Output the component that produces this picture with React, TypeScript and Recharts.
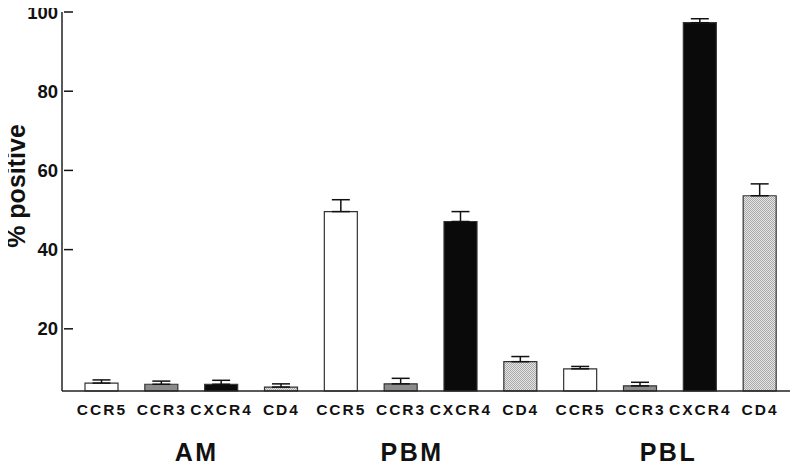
import React from "react";
import { BarChart, Bar, XAxis, YAxis, ErrorBar, Cell } from "recharts";

const groups = ["AM", "PBM", "PBL"];
const markers = ["CCR5", "CCR3", "CXCR4", "CD4"];

// % positive per marker (CCR5, CCR3, CXCR4, CD4)
const amPct = [6.3, 6.0, 6.0, 5.3];
const pbmPct = [49.6, 6.1, 47.1, 11.7];
const pblPct = [9.9, 5.6, 97.3, 53.6];

// upper error (SEM) per marker
const amErr = [0.8, 0.8, 1.0, 0.8];
const pbmErr = [3.0, 1.4, 2.5, 1.3];
const pblErr = [0.6, 0.9, 1.0, 3.0];

const yTicks = [20, 40, 60, 80, 100];

const pctByGroup = [amPct, pbmPct, pblPct];
const errByGroup = [amErr, pbmErr, pblErr];

const rows = groups.flatMap((g, gi) =>
  markers.map((m, mi) => ({
    key: `${g}-${m}`,
    group: g,
    marker: m,
    pct: pctByGroup[gi][mi],
    err: [0, errByGroup[gi][mi]],
  }))
);

const markerFill: Record<string, string> = {
  CCR5: "#ffffff",
  CCR3: "#8c8c8c",
  CXCR4: "#0a0a0a",
  CD4: "url(#hatch)",
};

const FONT = "'Liberation Sans', Arial, Helvetica, sans-serif";
const HALF_BAND = 30;
const groupShift = [5, -19, -2];

const renderYTick = (props: any) => {
  const { y, payload } = props;
  return (
    <g key={`yt-${payload.value}`}>
      <line x1={64} x2={73} y1={y} y2={y} stroke="#111" strokeWidth={1.5} />
      <text x={58} y={y} dy={6.5} textAnchor="end" fontFamily={FONT} fontWeight="bold" fontSize={18.5} fill="#111">
        {payload.value}
      </text>
    </g>
  );
};

const renderXTick = (props: any) => {
  const { x, payload } = props;
  const row = rows.find((r) => r.key === payload.value);
  if (!row) return <g />;
  const idx = rows.indexOf(row);
  const gi = Math.floor(idx / 4);
  return (
    <g key={`xt-${row.key}`}>
      <text x={x} y={415} textAnchor="middle" fontFamily={FONT} fontWeight="bold" fontSize={15.5} letterSpacing={2} fill="#111">
        {row.marker}
      </text>
      {idx % 4 === 1 && (
        <text
          x={x + HALF_BAND + groupShift[gi]}
          y={461}
          textAnchor="middle"
          fontFamily={FONT}
          fontWeight="bold"
          fontSize={25}
          letterSpacing={2.5}
          fill="#111"
        >
          {row.group}
        </text>
      )}
    </g>
  );
};

const renderYLabel = () => (
  <text
    x={16}
    y={186}
    transform="rotate(-90 16 186)"
    textAnchor="middle"
    dominantBaseline="central"
    fontFamily={FONT}
    fontWeight="bold"
    fontSize={25}
    fill="#111"
  >
    % positive
  </text>
);

export default function App() {
  return (
    <div style={{ margin: "-8px 0 0 -8px", width: 800, height: 466, background: "#fff" }}>
      <BarChart width={800} height={466} data={rows} margin={{ top: 12, right: 10, left: 0, bottom: 0 }} barSize={33}>
        <defs>
          <pattern id="hatch" width={2} height={2} patternUnits="userSpaceOnUse">
            <rect width={2} height={2} fill="#e6e6e6" />
            <rect width={1} height={1} fill="#a8a8a8" />
            <rect x={1} y={1} width={1} height={1} fill="#a8a8a8" />
          </pattern>
        </defs>
        <XAxis
          dataKey="key"
          height={75}
          axisLine={{ stroke: "#222", strokeWidth: 1.5 }}
          tickLine={false}
          tickSize={0}
          tickMargin={0}
          tick={renderXTick}
          interval={0}
          padding={{ left: 10, right: 0 }}
        />
        <YAxis
          width={62}
          domain={[4.3, 100]}
          ticks={yTicks}
          axisLine={{ stroke: "#222", strokeWidth: 1.5 }}
          tickLine={false}
          tick={renderYTick}
          label={{ content: renderYLabel }}
        />
        <Bar dataKey="pct" stroke="#333" strokeWidth={1.2} isAnimationActive={false}>
          {rows.map((r) => (
            <Cell key={r.key} fill={markerFill[r.marker]} />
          ))}
          <ErrorBar dataKey="err" direction="y" width={9} stroke="#111" strokeWidth={1.5} />
        </Bar>
      </BarChart>
    </div>
  );
}
